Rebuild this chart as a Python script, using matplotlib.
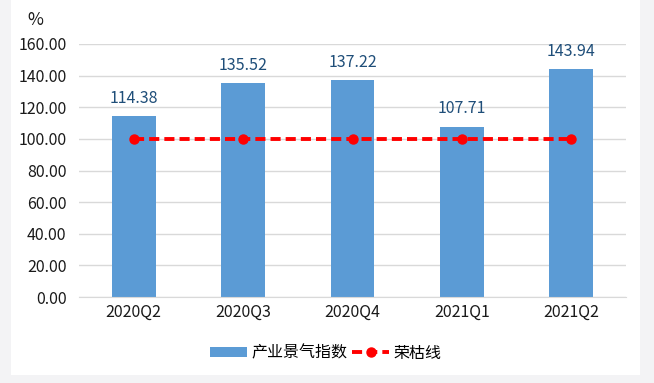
import matplotlib
matplotlib.use("Agg")
import matplotlib.pyplot as plt
from matplotlib.patches import Rectangle
from matplotlib.lines import Line2D
from matplotlib.patches import Patch

plt.rcParams['font.family'] = ['Noto Sans CJK SC', 'DejaVu Sans']

categories = ["2020Q2", "2020Q3", "2020Q4", "2021Q1", "2021Q2"]
index_values = [114.38, 135.52, 137.22, 107.71, 143.94]
line_values = [100, 100, 100, 100, 100]
yticks = [0, 20, 40, 60, 80, 100, 120, 140, 160]

fig = plt.figure(figsize=(6.54, 3.83), dpi=100)
fig.patch.set_facecolor('#f3f3f5')
fig.patches.append(Rectangle((11/654, 1-375/383), (640-11)/654, 375/383,
                             transform=fig.transFigure, facecolor='white',
                             edgecolor='none', zorder=-10))

ax = fig.add_axes([79/654, 1-297/383, (626-79)/654, (297-44)/383])
ax.set_zorder(2)
ax.set_facecolor('none')
x = list(range(len(categories)))
bar_color = '#5b9bd5'
dash = (0, (2.6, 1.3))
bars = ax.bar(x, index_values, width=0.4, color=bar_color, zorder=2)
ax.plot(x, line_values, color='#ff0000', linestyle=dash, linewidth=2.8,
        marker='o', markersize=6.5, zorder=3)

for xi, v in zip(x, index_values):
    ax.annotate(f"{v:.2f}", (xi, v), xytext=(0, 9.5), textcoords='offset points',
                ha='center', va='baseline', fontsize=11.5, color='#1f4e79')

ax.set_xlim(-0.5, len(categories) - 0.5)
ax.set_ylim(0, 160)
ax.set_yticks(yticks)
ax.set_yticklabels([f"{t:.2f}" for t in yticks], fontsize=11.5, color='#1a1a1a')
ax.set_xticks(x)
ax.set_xticklabels(categories, fontsize=11.5, color='#1a1a1a')
ax.tick_params(axis='both', length=0, pad=5)
ax.tick_params(axis='y', pad=9)
ax.grid(axis='y', color='#d9d9d9', linewidth=1, zorder=0)
ax.set_axisbelow(True)
for s in ['top', 'right', 'left']:
    ax.spines[s].set_visible(False)
ax.spines['bottom'].set_color('#d9d9d9')

fig.text(35/654, 1-20/383, "%", fontsize=12.5, ha='center', va='center', color='#1a1a1a')

handles = [Patch(facecolor=bar_color, edgecolor='none'),
           Line2D([0], [0], color='#ff0000', linestyle=dash, linewidth=2.8,
                  marker='o', markersize=6.5)]
leg = fig.legend(handles, ["产业景气指数", "荣枯线"], loc='center',
                 bbox_to_anchor=(326/654, 1-353/383), ncol=2, frameon=False,
                 fontsize=11.5, handlelength=2.3, handletextpad=0.3, columnspacing=0.3,
                 handleheight=0.6)
leg.set_zorder(5)

fig.savefig("out.png", dpi=100, facecolor=fig.get_facecolor())
